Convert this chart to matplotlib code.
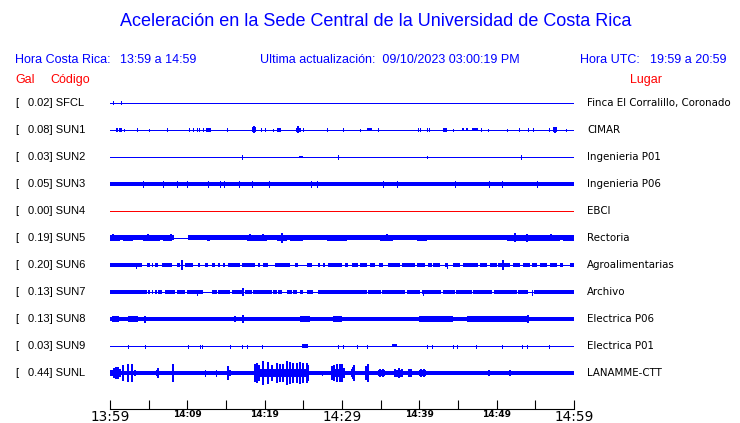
import datetime as dt
import matplotlib
matplotlib.use("Agg")
import matplotlib.pyplot as plt
from matplotlib.transforms import blended_transform_factory

# Datos de las estaciones
codes = ["SFCL", "SUN1", "SUN2", "SUN3", "SUN4", "SUN5", "SUN6", "SUN7", "SUN8", "SUN9", "SUNL"]
gal = [0.02, 0.08, 0.03, 0.05, 0.00, 0.19, 0.20, 0.13, 0.13, 0.03, 0.44]
places = ["Finca El Corralillo, Coronado", "CIMAR", "Ingenieria P01", "Ingenieria P06", "EBCI",
          "Rectoria", "Agroalimentarias", "Archivo", "Electrica P06", "Electrica P01", "LANAMME-CTT"]
dead = ["SUN4"]

start_time = "13:59"
utc_start = "19:59"
duration_min = 60
updated = "09/10/2023 03:00:19 PM"

# Trazas: bandas (min_ini, min_fin, amplitud) y picos (min, amplitud)
bands = {
    "SFCL": [],
    "SUN1": [(1.16, 1.55, 2), (12.41, 13.02, 2), (18.32, 18.88, 2.5), (21.59, 22.07, 2), (24.05, 24.66, 2),
             (33.23, 33.84, 1.5), (43.1, 43.54, 2), (45.48, 45.77, 1.5), (46.03, 46.33, 1.5),
             (46.77, 47.62, 1.5), (57.24, 57.76, 2.5)],
    "SUN2": [(24.48, 25.0, 1.3)],
    "SUN3": [(0, 60, 1.9)],
    "SUN4": [],
    "SUN5": [(0, 8.28, 2.5), (10.13, 60, 2.5), (0, 1.29, 3.3), (1.72, 3.02, 3.3), (4.31, 6.47, 3.3),
             (6.9, 7.97, 3.3), (12.5, 12.9, 3.3), (17.67, 20.26, 3.3), (21.55, 22.84, 3.3), (23.27, 25.0, 3.3),
             (28.0, 30.6, 3.3), (34.9, 36.6, 3.3), (39.65, 40.95, 3.3), (51.3, 58.2, 3.3), (58.6, 60, 3.3)],
    "SUN6": [(0.0, 4.1, 1.8), (4.74, 5.17, 1.8), (5.39, 5.6, 1.8), (5.82, 6.25, 1.8), (6.68, 7.97, 1.8),
             (8.62, 9.05, 1.8), (9.7, 10.78, 1.8), (11.42, 11.64, 1.8), (12.28, 12.71, 1.8), (13.15, 13.58, 1.8),
             (14.01, 14.22, 1.8), (14.65, 14.87, 1.8), (15.3, 16.81, 1.8), (17.02, 18.75, 1.8), (19.18, 19.39, 1.8),
             (19.83, 20.47, 1.8), (21.33, 23.27, 1.8), (23.92, 24.35, 1.8), (25.43, 26.08, 1.8), (26.94, 27.15, 1.8),
             (27.58, 27.8, 1.8), (28.23, 29.96, 1.8), (30.39, 30.82, 1.8), (31.25, 32.11, 1.8), (32.33, 33.19, 1.8),
             (33.62, 34.27, 1.8), (34.83, 35.34, 1.8), (35.99, 37.5, 1.8), (37.71, 39.44, 1.8), (39.65, 40.73, 1.8),
             (41.16, 41.59, 1.8), (41.81, 42.67, 1.8), (43.32, 43.75, 1.8), (44.39, 45.26, 1.8), (45.69, 47.63, 1.8),
             (47.84, 48.7, 1.8), (49.14, 50.0, 1.8), (50.21, 51.72, 1.8), (52.15, 53.01, 1.8), (53.45, 54.31, 1.8),
             (54.52, 55.17, 1.8), (55.6, 56.46, 1.8), (56.89, 57.76, 1.8), (58.19, 58.62, 1.8), (59.48, 60.0, 1.8)],
    "SUN7": [(0, 4.74, 1.8), (4.96, 5.17, 1.8), (5.39, 5.6, 1.8), (5.82, 6.04, 1.8), (6.25, 6.68, 1.8),
             (7.11, 8.4, 1.8), (8.62, 9.7, 1.8), (9.91, 12.07, 1.8), (13.15, 13.8, 1.8), (14.01, 15.52, 1.8),
             (15.73, 17.24, 1.8), (17.46, 18.32, 1.8), (18.53, 20.9, 1.8), (21.12, 21.55, 1.8), (21.76, 22.2, 1.8),
             (22.84, 23.49, 1.8), (23.7, 24.14, 1.8), (24.57, 25.0, 1.8), (25.43, 26.3, 1.8), (26.94, 33.2, 1.8),
             (33.4, 35.0, 1.8), (35.2, 38.2, 1.8), (38.4, 40.1, 1.8), (40.3, 42.8, 1.8), (43.0, 44.6, 1.8),
             (44.8, 46.8, 1.8), (47.0, 49.4, 1.8), (49.6, 52.6, 1.8), (52.8, 54.1, 1.8), (54.8, 60, 1.8)],
    "SUN8": [(0, 60, 2.0), (0.2, 1.1, 3), (2.37, 3.66, 3), (24.57, 25.86, 3), (28.88, 29.95, 3),
             (40.1, 44.4, 2.6), (46.1, 53.9, 2.6)],
    "SUN9": [(24.79, 25.65, 2), (36.42, 37.07, 1.5)],
    "SUNL": [(0, 60, 2.0), (0, 0.3, 3), (0.65, 1.2, 5), (6.0, 6.3, 3), (15.2, 15.6, 3), (18.7, 25.7, 4),
             (28.8, 30.2, 4), (31.2, 31.7, 4), (33.0, 33.4, 4), (34.6, 35.6, 3), (36.8, 37.8, 3.5),
             (38.5, 39.1, 3), (40.0, 40.8, 3)],
}

spikes = {
    "SFCL": [(0.43, 1.5), (1.38, 1.5)],
    "SUN1": [(0.74, 1.5), (0.94, 1.5), (1.85, 1), (3.53, 1.5), (5.08, 1), (7.33, 1.5), (10.25, 1.5),
             (10.77, 1.5), (11.25, 1.5), (11.51, 1.5), (11.99, 1.5), (15.17, 1.5), (18.62, 3.5), (19.49, 1.5),
             (20.08, 1.5), (21.12, 1), (24.37, 3.5), (24.99, 1.5), (28.02, 1.5), (30.17, 1.5), (32.33, 1),
             (34.69, 1.5), (39.86, 1.5), (40.08, 1.5), (41.03, 1.5), (41.29, 1.5), (44.39, 1), (47.93, 1.5),
             (48.92, 1), (51.37, 1), (52.89, 1.5), (54.01, 1.5), (54.66, 1.5), (56.8, 1.5), (57.5, 3), (58.92, 1)],
    "SUN2": [(17.03, 1.8), (29.52, 1.8), (40.95, 1.3), (53.15, 1.8)],
    "SUN3": [(4.31, 2.6), (6.9, 2.6), (8.62, 2.6), (10.0, 2.6), (12.71, 2.6), (14.22, 2.6), (14.78, 2.6),
             (16.72, 2.6), (18.32, 2.6), (20.6, 2.6), (25.95, 2.6), (26.81, 2.6), (35.34, 2.6), (37.07, 2.6),
             (44.61, 2.6), (49.05, 2.6), (50.64, 2.6), (55.26, 2.6)],
    "SUN4": [],
    "SUN5": [(0.43, 3.5), (4.95, 3.5), (7.85, 3.5), (18.1, 3.5), (19.82, 3.5), (22.28, 5), (35.78, 3.5),
             (52.33, 4.5), (53.96, 4), (56.98, 3.5)],
    "SUN6": [(3.36, 2.5), (9.35, 4.5), (43.53, 2.5), (50.86, 4.5)],
    "SUN7": [(11.2, 2.5), (17.24, 4), (40.43, 2.5), (54.52, 2.5)],
    "SUN8": [(4.53, 3.5), (16.16, 3), (17.24, 4), (40.1, 3), (54.1, 4)],
    "SUN9": [(2.37, 1.5), (4.53, 1.5), (10.13, 1.5), (11.64, 1.5), (11.86, 1.5), (15.52, 1.5), (17.11, 1.5),
             (17.67, 1.5), (19.61, 1.5), (29.52, 1.5), (30.17, 1.5), (31.9, 1.5), (33.19, 1.5), (40.95, 1.5),
             (41.6, 1.5), (44.39, 1.5), (44.83, 1.5), (47.33, 1.5), (50.65, 1.5), (53.24, 1.5), (53.88, 1.5),
             (56.81, 1.5)],
    "SUNL": [(0.22, 3), (0.52, 5), (0.78, 6), (1.03, 6), (1.29, 4), (1.72, 8), (2.29, 9), (2.81, 9), (3.23, 3),
             (6.25, 5), (8.19, 9), (12.28, 2.5), (13.71, 2.5), (15.32, 7), (18.75, 9), (19.01, 10), (19.33, 8),
             (19.82, 12), (20.47, 11), (20.91, 8), (21.59, 10), (21.98, 9), (22.37, 9), (22.85, 12), (23.27, 11),
             (23.7, 10), (24.14, 10), (24.57, 11), (24.99, 10), (25.43, 10), (25.64, 8), (27.35, 2), (28.7, 7),
             (28.96, 8), (29.31, 9), (29.74, 9), (30.04, 9), (30.26, 5), (31.36, 6), (31.61, 8), (33.1, 7),
             (33.3, 9), (34.91, 4), (35.3, 4), (36.85, 4), (37.37, 5), (37.76, 4), (38.66, 4), (38.92, 4),
             (40.21, 4), (40.6, 4), (49.0, 3), (51.72, 3)],
}

BLUE = "#0000ff"
RED = "#ff0000"
W, H = 740, 423
row_step = 27.0  # amplitud de la traza en la misma escala que la separacion entre filas

fig = plt.figure(figsize=(W / 100, H / 100), dpi=100)
fig.patch.set_facecolor("white")


def fx(px):
    return px / W


def fy(py):
    return 1 - py / H


ax = fig.add_axes([fx(110), fy(409), fx(574) - fx(110), fy(90) - fy(409)])
ax.set_xlim(0, duration_min)
ax.set_ylim((409 - 103) / row_step, (90 - 103) / row_step)
for s in ["top", "left", "right"]:
    ax.spines[s].set_visible(False)
ax.spines["bottom"].set_linewidth(0.8)
ax.set_yticks([])

min_w = duration_min / 464.0  # ancho minimo de una banda (un pixel)
for i, code in enumerate(codes):
    color = RED if code in dead else BLUE
    ax.plot([0, duration_min], [i, i], color=color, lw=0.7, antialiased=False)
    for s0, s1, a in bands[code]:
        a = a / row_step
        ax.fill_between([s0, max(s1, s0 + min_w)], i - a, i + a, color=color, lw=0, antialiased=False)
    for t, a in spikes[code]:
        ax.vlines(t, i - a / row_step, i + a / row_step, color=color,
                  lw=1.1 if a >= 3 else 0.7, antialiased=False)

# Eje de tiempo
t0 = dt.datetime.strptime(start_time, "%H:%M")
ticks = list(range(0, duration_min + 1, 5))
labels = []
for m in ticks:
    lab = (t0 + dt.timedelta(minutes=m)).strftime("%H:%M")
    labels.append(lab if m % 10 == 0 else "")
ax.set_xticks(ticks)
ax.set_xticklabels(labels)
ax.tick_params(axis="x", direction="in", length=6.5, width=0.8, pad=0.5)
for m, tl in zip(ticks, ax.get_xticklabels()):
    tl.set_family("DejaVu Sans")
    if m % 30 == 0:
        tl.set_fontsize(9.8)
    else:
        tl.set_fontsize(6.5)
        tl.set_fontweight("bold")

# Textos
sans = "Liberation Sans"
fig.text(fx(376), fy(22), "Aceleración en la Sede Central de la Universidad de Costa Rica",
         color=BLUE, fontsize=13, family=sans, ha="center", va="center")

t_end = (t0 + dt.timedelta(minutes=duration_min)).strftime("%H:%M")
u0 = dt.datetime.strptime(utc_start, "%H:%M")
u_end = (u0 + dt.timedelta(minutes=duration_min)).strftime("%H:%M")
fig.text(fx(15), fy(60), "Hora Costa Rica:", color=BLUE, fontsize=9, family=sans, va="center")
fig.text(fx(120), fy(60), f"{start_time} a {t_end}", color=BLUE, fontsize=9, family=sans, va="center")
fig.text(fx(260), fy(60), f"Ultima actualización:  {updated}", color=BLUE, fontsize=9, family=sans, va="center")
fig.text(fx(580), fy(60), "Hora UTC:", color=BLUE, fontsize=9, family=sans, va="center")
fig.text(fx(650), fy(60), f"{utc_start} a {u_end}", color=BLUE, fontsize=9, family=sans, va="center")
fig.text(fx(15), fy(80), "Gal", color=RED, fontsize=9, family=sans, va="center")
fig.text(fx(50), fy(80), "Código", color=RED, fontsize=9, family=sans, va="center")
fig.text(fx(630), fy(80), "Lugar", color=RED, fontsize=9, family=sans, va="center")

tr = blended_transform_factory(fig.transFigure, ax.transData)
for i, (code, g, place) in enumerate(zip(codes, gal, places)):
    ax.text(fx(15), i, "[", transform=tr, fontsize=8, family=sans, va="center")
    ax.text(fx(27.5), i, f"{g:.2f}] {code}", transform=tr, fontsize=8, family=sans, va="center")
    ax.text(fx(587), i, place, transform=tr, fontsize=7.4, family="DejaVu Sans", va="center")

fig.savefig("out.png", dpi=100, facecolor="white")
